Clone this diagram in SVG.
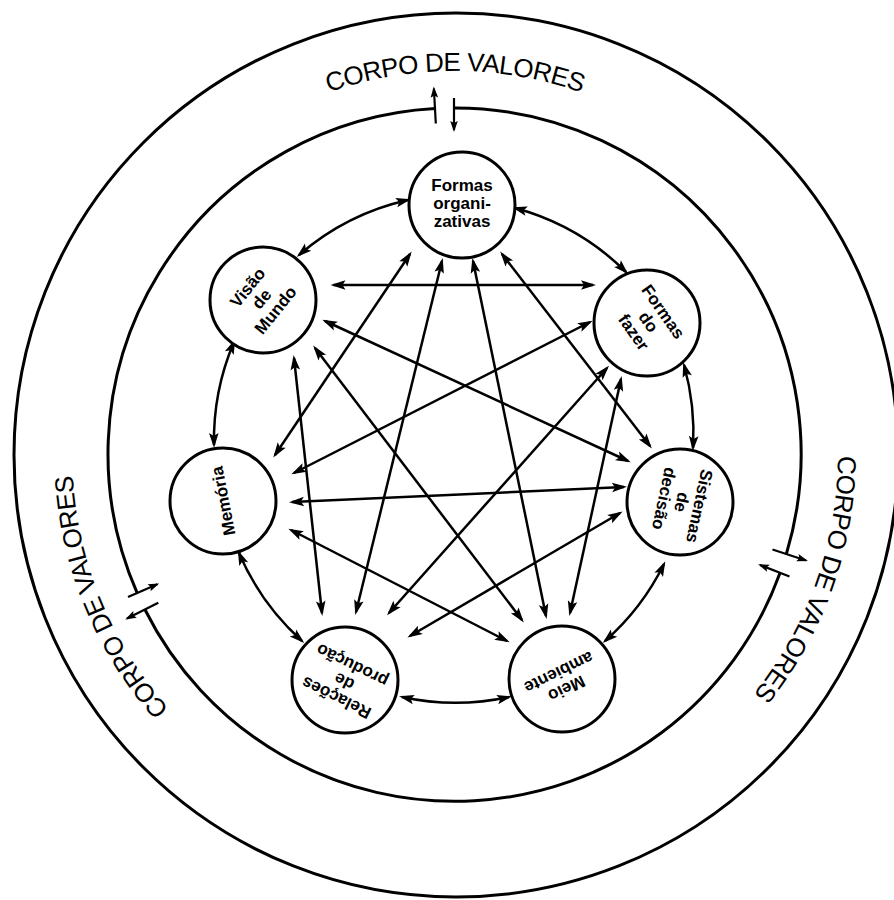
<svg xmlns="http://www.w3.org/2000/svg" width="894" height="900" viewBox="0 0 894 900">
<style>
.ring{fill:none;stroke:#000;stroke-width:3}
.node{fill:#fff;stroke:#000;stroke-width:3}
.lbl{font-family:"Liberation Sans","DejaVu Sans",sans-serif;font-size:17px;font-weight:bold;fill:#000;text-anchor:middle}
.cv{font-family:"Liberation Sans","DejaVu Sans",sans-serif;font-size:26px;letter-spacing:-0.6px;fill:#000}
.e{fill:none;stroke:#000;stroke-width:2.5;marker-start:url(#ah);marker-end:url(#ah)}
.g{fill:none;stroke:#000;stroke-width:2.2;marker-end:url(#sh)}
</style>
<defs>
<marker id="ah" viewBox="-14 -6 18 12" refX="0" refY="0" markerWidth="18" markerHeight="12" markerUnits="userSpaceOnUse" orient="auto-start-reverse">
<path d="M3,0 L-12,-4.8 L-9,0 L-12,4.8 Z" fill="#000"/>
</marker>
<marker id="sh" viewBox="-12 -5 15 10" refX="0" refY="0" markerWidth="15" markerHeight="10" markerUnits="userSpaceOnUse" orient="auto">
<path d="M2,0 L-9,-3.8 L-7,0 L-9,3.8 Z" fill="#000"/>
</marker>
<path id="tpTop" d="M95.1,323 A383,383 0 0 1 814.9,323"/>
<path id="tpRight" d="M698.6,158.5 A383,383 0 0 1 458.3,837"/>
<path id="tpLeft" d="M471.7,836.6 A383,383 0 0 1 196.3,171.6"/>
</defs>

<g id="outer">
<circle class="ring" cx="456" cy="455" r="442"/>
</g>

<g id="labels-corpo">
<text class="cv"><textPath href="#tpTop" startOffset="50%" text-anchor="middle">CORPO DE VALORES</textPath></text>
<text class="cv"><textPath href="#tpRight" startOffset="50%" text-anchor="middle">CORPO DE VALORES</textPath></text>
<text class="cv"><textPath href="#tpLeft" startOffset="50%" text-anchor="middle">CORPO DE VALORES</textPath></text>
</g>

<g id="inner-ring">
<path class="ring" d="M454,108 A346,346 0 0 1 786.5,553.5"/>
<path class="ring" d="M780,573 A346,346 0 0 1 144.9,609.5"/>
<path class="ring" d="M137.2,593.1 A346,346 0 0 1 435,108.5"/>
</g>

<g id="gap-arrows">
<line class="g" x1="435.8" y1="123.5" x2="433.9" y2="88.6"/>
<line class="g" x1="454" y1="98" x2="454" y2="130"/>
<line class="g" x1="772.5" y1="549.5" x2="806" y2="560.5"/>
<line class="g" x1="789.5" y1="576.5" x2="760" y2="565"/>
<line class="g" x1="158.3" y1="602.7" x2="127" y2="618.5"/>
<line class="g" x1="128" y1="597.1" x2="157.3" y2="584.2"/>
</g>

<g id="connectors">
<line class="e" x1="333.5" y1="285" x2="593" y2="285"/>
<line class="e" x1="325" y1="321" x2="628" y2="461"/>
<line class="e" x1="315" y1="348" x2="522" y2="620"/>
<line class="e" x1="294" y1="358" x2="322" y2="613"/>
<line class="e" x1="410" y1="254" x2="275" y2="455"/>
<line class="e" x1="442" y1="261" x2="356" y2="612"/>
<line class="e" x1="473" y1="261" x2="546" y2="616"/>
<line class="e" x1="502" y1="254" x2="650" y2="446"/>
<line class="e" x1="590" y1="322" x2="294" y2="473"/>
<line class="e" x1="607" y1="368" x2="389" y2="613"/>
<line class="e" x1="621" y1="379" x2="570" y2="613"/>
<line class="e" x1="292" y1="502" x2="624" y2="487"/>
<line class="e" x1="291" y1="530" x2="507" y2="641"/>
<line class="e" x1="620" y1="513" x2="410" y2="636"/>
<path class="e" d="M299,255 A250,250 0 0 1 408,200"/>
<path class="e" d="M515,208 A250,250 0 0 1 626,272"/>
<path class="e" d="M684,365 A250,250 0 0 1 693,448"/>
<path class="e" d="M664,564 A250,250 0 0 1 605,641"/>
<path class="e" d="M509,697 A250,250 0 0 1 402,697"/>
<path class="e" d="M302,641 A250,250 0 0 1 239,553"/>
<path class="e" d="M214,445 A250,250 0 0 1 234,342"/>
</g>

<g id="n-formas-org" transform="translate(462,205)">
<circle class="node" r="53"/>
<text class="lbl"><tspan x="0" y="-14">Formas</tspan><tspan x="0" y="4">organi-</tspan><tspan x="0" y="22">zativas</tspan></text>
</g>
<g id="n-visao" transform="translate(263,300)">
<circle class="node" r="53"/>
<text class="lbl" transform="rotate(-51)"><tspan x="0" y="-14">Visão</tspan><tspan x="0" y="4">de</tspan><tspan x="0" y="22">Mundo</tspan></text>
</g>
<g id="n-formas-fazer" transform="translate(647,323)">
<circle class="node" r="53"/>
<text class="lbl" transform="rotate(55)"><tspan x="0" y="-14">Formas</tspan><tspan x="0" y="4">do</tspan><tspan x="0" y="22">fazer</tspan></text>
</g>
<g id="n-memoria" transform="translate(223,501)">
<circle class="node" r="53"/>
<text class="lbl" transform="rotate(-101)"><tspan x="0" y="6">Memória</tspan></text>
</g>
<g id="n-sistemas" transform="translate(680,502)">
<circle class="node" r="53"/>
<text class="lbl" transform="rotate(102)"><tspan x="0" y="-14">Sistemas</tspan><tspan x="0" y="4">de</tspan><tspan x="0" y="22">decisão</tspan></text>
</g>
<g id="n-relacoes" transform="translate(345,680)">
<circle class="node" r="53"/>
<text class="lbl" transform="rotate(-154)"><tspan x="0" y="-14">Relações</tspan><tspan x="0" y="4">de</tspan><tspan x="0" y="22">produção</tspan></text>
</g>
<g id="n-meio" transform="translate(562,679)">
<circle class="node" r="53"/>
<text class="lbl" transform="rotate(154)"><tspan x="0" y="-5">Meio</tspan><tspan x="0" y="13">ambiente</tspan></text>
</g>
</svg>
